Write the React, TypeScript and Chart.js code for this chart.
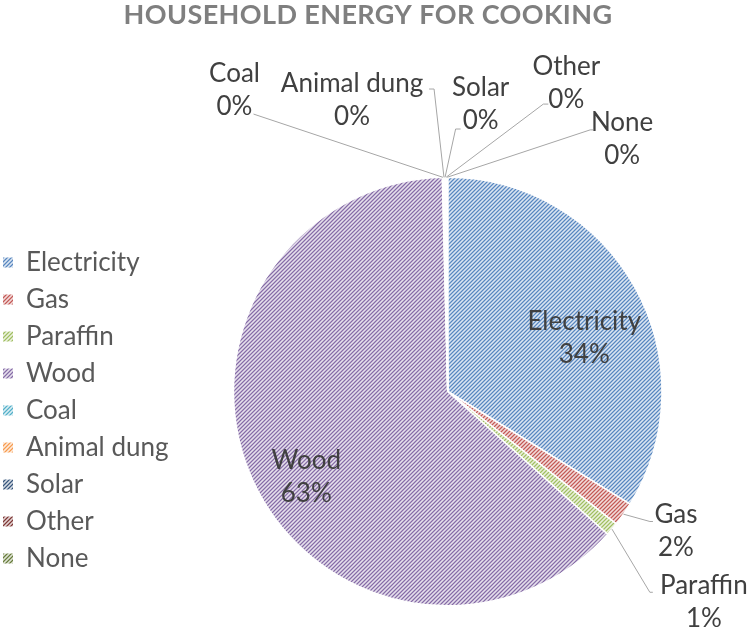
import React, { useEffect, useRef } from "react";
import { Chart, registerables } from "chart.js";

Chart.register(...registerables);

// ---- data ----
const TITLE = "HOUSEHOLD ENERGY FOR COOKING";
const CATEGORIES = ["Electricity", "Gas", "Paraffin", "Wood", "Coal", "Animal dung", "Solar", "Other", "None"];
const SHARES = [33.8, 1.8, 1.0, 63.0, 0.08, 0.08, 0.08, 0.08, 0.08];
const BASE_COLORS = ["#4F81BD", "#C0504D", "#9BBB59", "#8064A2", "#4BACC6", "#F79646", "#2C4D75", "#772C2A", "#5F7530"];

// ---- label layout (text block centre relative to pie centre, px at radius 215) ----
type LabelSpec = { dx: number; dy: number; leader?: number[] };
const LABEL_LAYOUT: LabelSpec[] = [
  { dx: 137, dy: -54.5 },
  { dx: 229, dy: 139.5, leader: [-26, -9, -23, -9] },
  { dx: 257, dy: 210.5, leader: [-54, -9, -51, -9] },
  { dx: -142, dy: 85.5 },
  { dx: -214, dy: -303.5, leader: [19, 25, 19, 25] },
  { dx: -96, dy: -293.5, leader: [82, -10, 77, -10] },
  { dx: 33, dy: -289.5, leader: [-25, 26, -20, 26] },
  { dx: 119, dy: -310.5, leader: [-23, 22, -18, 22] },
  { dx: 175, dy: -253.5, leader: [-32, -9, -29, -9] },
];

const FONT = "Lato, 'Open Sans', sans-serif";

function hexToRgb(h: string) {
  const n = parseInt(h.slice(1), 16);
  return [(n >> 16) & 255, (n >> 8) & 255, n & 255];
}
function mix(rgb: number[], t: number) {
  return rgb.map((c) => Math.round(c * (1 - t) + 255 * t));
}
function makePattern(hex: string): CanvasPattern | string {
  const size = 4;
  const c = document.createElement("canvas");
  c.width = size;
  c.height = size;
  const cx = c.getContext("2d");
  if (!cx) return hex;
  const rgb = hexToRgb(hex);
  const img = cx.createImageData(size, size);
  for (let y = 0; y < size; y++) {
    for (let x = 0; x < size; x++) {
      const d = (x + y) % size;
      let col: number[];
      if (d === 0) col = mix(rgb, 0.05);
      else if (d === 1 || d === 3) col = mix(rgb, 0.5);
      else col = mix(rgb, 0.8);
      const k = (y * size + x) * 4;
      img.data[k] = col[0];
      img.data[k + 1] = col[1];
      img.data[k + 2] = col[2];
      img.data[k + 3] = 255;
    }
  }
  cx.putImageData(img, 0, 0);
  const p = cx.createPattern(c, "repeat");
  return p || hex;
}

const titlePlugin = {
  id: "customTitle",
  afterDraw(chart: any) {
    const ctx = chart.ctx;
    ctx.save();
    (ctx as any).letterSpacing = "0.4px";
    ctx.font = `bold 27px ${FONT}`;
    ctx.fillStyle = "#7F7F7F";
    ctx.textAlign = "center";
    ctx.textBaseline = "alphabetic";
    ctx.fillText(TITLE, chart.width / 2 - 7, 24);
    ctx.restore();
  },
};

const labelPlugin = {
  id: "sliceLabels",
  afterDatasetsDraw(chart: any) {
    const ctx = chart.ctx;
    const meta = chart.getDatasetMeta(0);
    const data: number[] = chart.data.datasets[0].data;
    const total = data.reduce((a, b) => a + b, 0);
    const first = meta.data[0].getProps(["x", "y", "outerRadius"], true);
    const cx = first.x, cy = first.y, R = first.outerRadius;
    const s = R / 215;
    const lh = 33;
    ctx.save();
    meta.data.forEach((arc: any, i: number) => {
      const spec = LABEL_LAYOUT[i];
      const p = arc.getProps(["startAngle", "endAngle"], true);
      const mid = (p.startAngle + p.endAngle) / 2;
      const bx = cx + spec.dx * s;
      const by = cy + spec.dy * s;
      if (spec.leader) {
        const ax = cx + Math.cos(mid) * R;
        const ay = cy + Math.sin(mid) * R;
        ctx.beginPath();
        ctx.strokeStyle = "#A6A6A6";
        ctx.lineWidth = 1;
        ctx.moveTo(ax, ay);
        ctx.lineTo(bx + spec.leader[0], by + spec.leader[1]);
        ctx.lineTo(bx + spec.leader[2], by + spec.leader[3]);
        ctx.stroke();
      }
      const pct = Math.round((data[i] / total) * 100) + "%";
      ctx.font = `26px ${FONT}`;
      ctx.fillStyle = "#404040";
      ctx.textAlign = "center";
      ctx.textBaseline = "alphabetic";
      ctx.fillText(CATEGORIES[i], bx, by - lh / 2 + 9);
      ctx.fillText(pct, bx, by + lh / 2 + 9);
    });
    ctx.restore();
  },
};

export default function App() {
  const ref = useRef<HTMLCanvasElement>(null);
  useEffect(() => {
    if (!ref.current) return;
    const patterns = BASE_COLORS.map(makePattern);
    const chart = new Chart(ref.current, {
      type: "pie",
      data: {
        labels: CATEGORIES,
        datasets: [
          {
            data: SHARES,
            backgroundColor: patterns as any,
            borderColor: "#FFFFFF",
            borderWidth: 1.5,
          },
        ],
      },
      options: {
        responsive: false,
        animation: false,
        layout: { padding: { top: 176.5, left: -8, right: 33, bottom: 25.5 } },
        plugins: {
          tooltip: { enabled: false },
          title: { display: false },
          legend: {
            position: "left",
            title: { display: true, text: " ", font: { size: 10 }, padding: { top: 0, bottom: 26 } },
            labels: {
              boxWidth: 10,
              boxHeight: 10,
              padding: 11,
              color: "#595959",
              font: { size: 26, family: FONT },
              generateLabels: (ch: any) => {
                const base = (Chart as any).overrides.pie.plugins.legend.labels.generateLabels(ch);
                return base.map((it: any) => ({ ...it, lineWidth: 0, strokeStyle: "rgba(0,0,0,0)" }));
              },
            },
          },
        },
      },
      plugins: [titlePlugin, labelPlugin],
    });
    return () => chart.destroy();
  }, []);
  return (
    <div style={{ position: "absolute", left: 0, top: 0, width: 750, height: 632, background: "#fff" }}>
      <canvas ref={ref} width={750} height={632} style={{ display: "block" }} />
    </div>
  );
}
